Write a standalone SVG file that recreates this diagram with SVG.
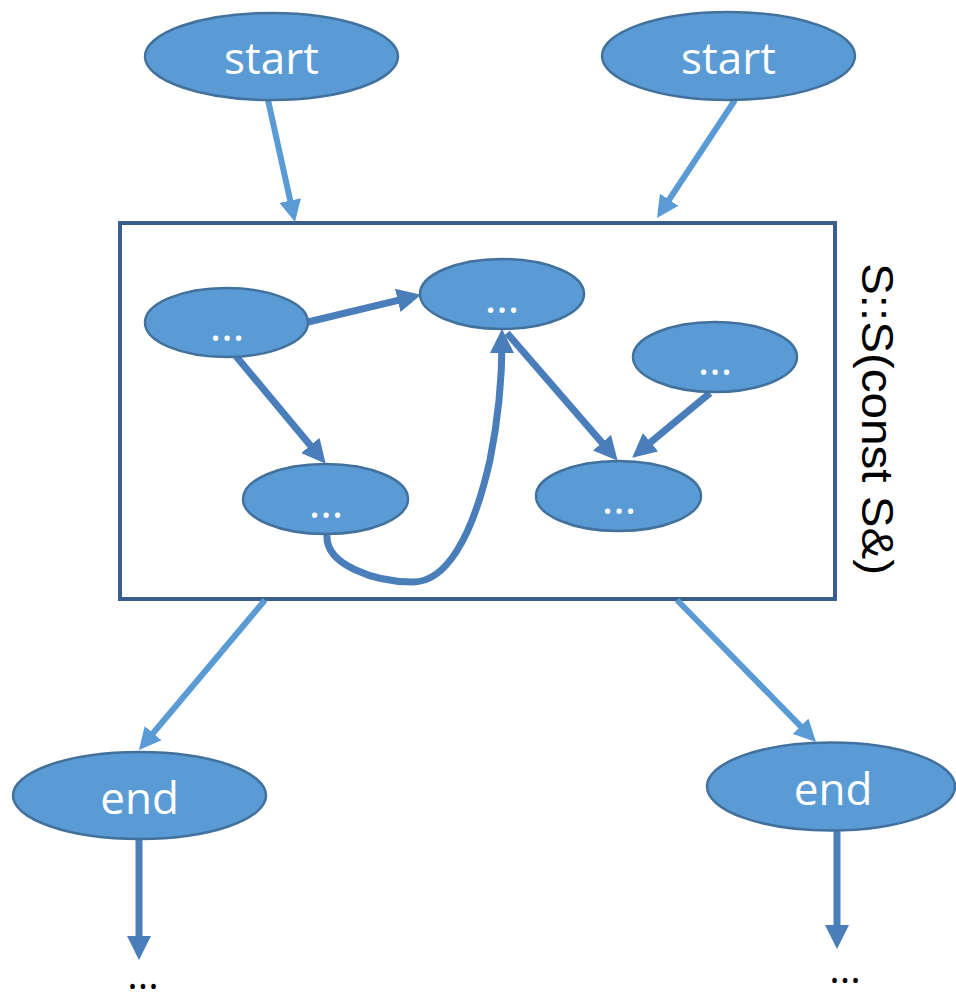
<svg xmlns="http://www.w3.org/2000/svg" width="956" height="1000" viewBox="0 0 956 1000">
  <defs>
    <style>
      .node { fill: #5b9bd5; stroke: #41719c; stroke-width: 2.5; }
      .label { fill: #ffffff; font-family: "Open Sans", "Liberation Sans", sans-serif; font-size: 44px; text-anchor: middle; }
      .dots { fill: #ffffff; font-family: "Open Sans", "Liberation Sans", sans-serif; font-size: 44px; text-anchor: middle; }
      .tail { fill: #000000; font-family: "Open Sans", "Liberation Sans", sans-serif; font-size: 40px; text-anchor: middle; }
      .light { fill: none; stroke: #5b9bd5; stroke-width: 6; marker-end: url(#headLight); }
      .dark { fill: none; stroke: #4a7ebb; stroke-width: 7; marker-end: url(#headDark); }
      .frame { fill: #ffffff; stroke: #3a5f8e; stroke-width: 4; }
      .caption { fill: #000000; font-family: "Liberation Sans", Arial, sans-serif; font-size: 45px; }
    </style>
    <marker id="headLight" viewBox="0 0 22 22" markerWidth="22" markerHeight="22" refX="10" refY="11" orient="auto" markerUnits="userSpaceOnUse">
      <path d="M0,0 L22,11 L0,22 z" fill="#5b9bd5"/>
    </marker>
    <marker id="headDark" viewBox="0 0 22 22" markerWidth="24" markerHeight="24" refX="10" refY="11" orient="auto" markerUnits="userSpaceOnUse">
      <path d="M0,0 L22,11 L0,22 z" fill="#4a7ebb"/>
    </marker>
  </defs>

  <rect width="956" height="1000" fill="#ffffff"/>

  <!-- constructor frame -->
  <g id="ctor">
    <rect class="frame" x="120" y="223" width="715" height="376"/>
    <text class="caption" transform="translate(862,263) rotate(90)" textLength="312" lengthAdjust="spacingAndGlyphs">S::S(const S&amp;)</text>
  </g>

  <!-- connectors -->
  <g id="connectors">
    <line class="light" x1="268" y1="100" x2="292.4" y2="210.3"/>
    <line class="light" x1="735" y1="100" x2="663.6" y2="208"/>
    <line class="light" x1="265" y1="600" x2="146.7" y2="740.8"/>
    <line class="light" x1="677" y1="600" x2="807.6" y2="733.4"/>
    <line class="dark" x1="308" y1="322" x2="408.3" y2="297.8"/>
    <line class="dark" x1="235" y1="355" x2="317.3" y2="453.8"/>
    <line class="dark" x1="507" y1="333" x2="609.1" y2="450.9"/>
    <line class="dark" x1="710" y1="393" x2="642.2" y2="449.3"/>
    <path class="dark" d="M327,535 C325,565 375,582 413,582 C445,582 472,540 490,460 C498,420 502,380 502,342"/>
    <line class="dark" x1="139" y1="839" x2="139" y2="947"/>
    <line class="dark" x1="837" y1="831" x2="837" y2="936"/>
  </g>

  <!-- entry nodes -->
  <g id="start-left">
    <ellipse class="node" cx="271.5" cy="56.5" rx="126.5" ry="43.5"/>
    <text class="label" x="271.5" y="74">start</text>
  </g>
  <g id="start-right">
    <ellipse class="node" cx="728.5" cy="56" rx="126.5" ry="44"/>
    <text class="label" x="728.5" y="74">start</text>
  </g>

  <!-- inner nodes -->
  <g id="inner-a">
    <ellipse class="node" cx="226.5" cy="322.5" rx="81.5" ry="34.5"/>
    <text class="dots" x="227" y="341">...</text>
  </g>
  <g id="inner-b">
    <ellipse class="node" cx="502" cy="294" rx="82" ry="35"/>
    <text class="dots" x="502" y="313">...</text>
  </g>
  <g id="inner-c">
    <ellipse class="node" cx="325.5" cy="499" rx="82.5" ry="35"/>
    <text class="dots" x="326" y="518">...</text>
  </g>
  <g id="inner-d">
    <ellipse class="node" cx="715" cy="357" rx="82" ry="35"/>
    <text class="dots" x="715" y="375">...</text>
  </g>
  <g id="inner-e">
    <ellipse class="node" cx="618.5" cy="496" rx="82.5" ry="35"/>
    <text class="dots" x="619" y="514">...</text>
  </g>

  <!-- exit nodes -->
  <g id="end-left">
    <ellipse class="node" cx="139.5" cy="795.5" rx="126.5" ry="43.5"/>
    <text class="label" x="139.5" y="814">end</text>
  </g>
  <g id="end-right">
    <ellipse class="node" cx="831" cy="786.5" rx="124" ry="44"/>
    <text class="label" x="833" y="805">end</text>
  </g>

  <!-- continuation marks -->
  <g id="more-left">
    <text class="tail" x="143" y="989">...</text>
  </g>
  <g id="more-right">
    <text class="tail" x="845" y="983">...</text>
  </g>
</svg>
